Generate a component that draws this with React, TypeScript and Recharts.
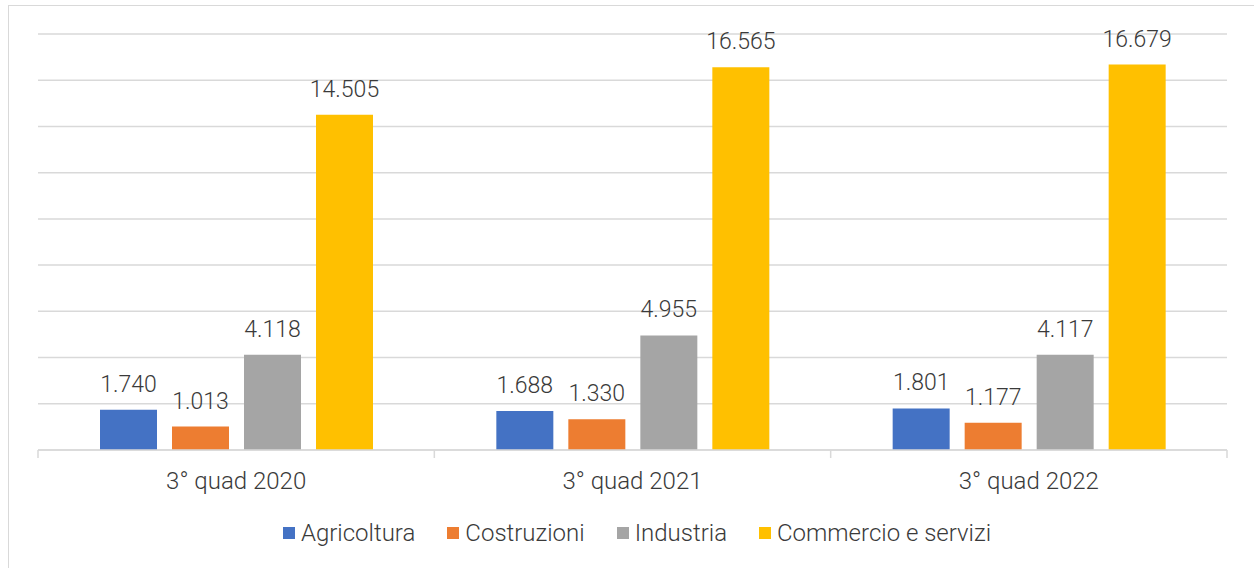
import React from "react";
import { BarChart, Bar, XAxis, YAxis, CartesianGrid, LabelList, Legend } from "recharts";

const categories = ["3° quad 2020", "3° quad 2021", "3° quad 2022"];
const agricoltura = [1740, 1688, 1801];
const costruzioni = [1013, 1330, 1177];
const industria = [4118, 4955, 4117];
const commercio = [14505, 16565, 16679];
const yTicks = [0, 2000, 4000, 6000, 8000, 10000, 12000, 14000, 16000, 18000];

const series = [
	{ key: "agricoltura", name: "Agricoltura", color: "#4472C4" },
	{ key: "costruzioni", name: "Costruzioni", color: "#ED7D31" },
	{ key: "industria", name: "Industria", color: "#A5A5A5" },
	{ key: "commercio", name: "Commercio e servizi", color: "#FFC000" },
];

const data = categories.map((name, i) => ({
	name,
	agricoltura: agricoltura[i],
	costruzioni: costruzioni[i],
	industria: industria[i],
	commercio: commercio[i],
}));

const TEXT = "#3a3a3a";
const GRID = "#D9D9D9";
const FONT = "Roboto, 'Noto Sans', sans-serif";
const FS = 23;
const FS_AXIS = 24;

// 14505 -> "14.505"
const fmt = (v: any) => String(v).replace(/\B(?=(\d{3})+(?!\d))/g, ".");

const PLOT_LEFT = 38;
const PLOT_RIGHT = 1227;
const AXIS_H = 30;
const band = (PLOT_RIGHT - PLOT_LEFT) / categories.length;

const CategoryTick = (props: any) => {
	const { x, y, payload, index } = props;
	return (
		<g>
			<line x1={x - band / 2} x2={x - band / 2} y1={y} y2={y + 8} stroke={GRID} strokeWidth={1.5} />
			{index === categories.length - 1 && (
				<line x1={x + band / 2} x2={x + band / 2} y1={y} y2={y + 8} stroke={GRID} strokeWidth={1.5} />
			)}
			<text x={x} y={y} dy={39} textAnchor="middle" fill={TEXT} fontSize={FS_AXIS} fontFamily={FONT} fontWeight={300}>
				{payload.value}
			</text>
		</g>
	);
};

const LegendContent = () => (
	<div
		style={{
			display: "flex",
			justifyContent: "center",
			gap: 32,
			paddingLeft: 20,
			fontFamily: FONT,
			fontSize: FS_AXIS,
			fontWeight: 300,
			color: TEXT,
			lineHeight: "28px",
		}}
	>
		{series.map((s) => (
			<div key={s.key} style={{ display: "flex", alignItems: "center" }}>
				<span style={{ width: 12, height: 12, background: s.color, display: "inline-block", marginRight: 6 }} />
				<span>{s.name}</span>
			</div>
		))}
	</div>
);

export default function App() {
	return (
		<div style={{ position: "absolute", left: 0, top: 0, width: 1254, height: 568, background: "#fff", overflow: "hidden" }}>
			<div style={{ position: "absolute", left: 8, top: 5, width: 1300, height: 600, border: `1.5px solid ${GRID}`, boxSizing: "border-box" }} />
			<div style={{ position: "absolute", left: 0, top: 0 }}>
				<BarChart
					width={1254}
					height={568}
					data={data}
					margin={{ top: 34, right: 1254 - PLOT_RIGHT, bottom: 118 - AXIS_H, left: PLOT_LEFT }}
					barSize={57}
					barGap={15}
				>
					<CartesianGrid vertical={false} stroke={GRID} strokeWidth={1.5} />
					<YAxis hide domain={[0, 18000]} ticks={yTicks} width={0} />
					<XAxis
						dataKey="name"
						axisLine={{ stroke: GRID, strokeWidth: 1.5 }}
						tickLine={false}
						tickSize={0}
						tickMargin={0}
						height={AXIS_H}
						tick={<CategoryTick />}
						interval={0}
					/>
					<Legend
						layout="horizontal"
						verticalAlign="middle"
						content={<LegendContent />}
						wrapperStyle={{ top: 519, left: 0, width: 1254 }}
					/>
					{series.map((s) => (
						<Bar key={s.key} dataKey={s.key} name={s.name} fill={s.color} isAnimationActive={false}>
							<LabelList
								dataKey={s.key}
								position="top"
								offset={18}
								formatter={fmt}
								fill={TEXT}
								fontSize={FS}
								fontFamily={FONT}
								fontWeight={300}
							/>
						</Bar>
					))}
				</BarChart>
			</div>
		</div>
	);
}
